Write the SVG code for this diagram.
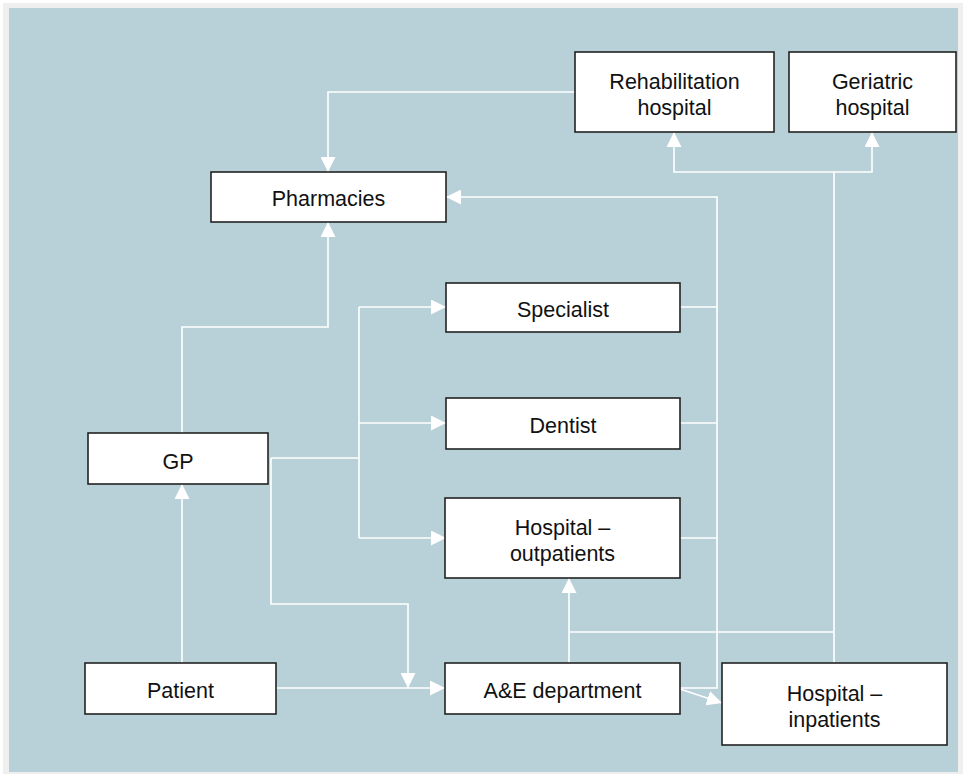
<svg xmlns="http://www.w3.org/2000/svg" width="963" height="774" viewBox="0 0 963 774">
<style>
.box{fill:#fff;stroke:#222;stroke-width:1.6}
.lbl{font-family:"Liberation Sans",Arial,sans-serif;font-size:21.5px;fill:#111;text-anchor:middle}
.c{fill:none;stroke:#fff;stroke-width:1.6}
.a{marker-end:url(#ah)}
</style>
<defs>
<marker id="ah" markerUnits="userSpaceOnUse" markerWidth="15" markerHeight="15" refX="15" refY="7.5" orient="auto" viewBox="0 0 15 15">
<path d="M0,0 L15,7.5 L0,15 Z" fill="#fff"/>
</marker>
</defs>
<rect x="3" y="3" width="960" height="771" fill="#efefef"/>
<rect x="9" y="8" width="949" height="764" fill="#b8d0d7"/>
<g id="connectors">
<path class="c a" d="M575,92 H328 V172"/>
<path class="c a" d="M680,688 H717 V197 H446"/>
<path class="c" d="M680,307 H717 M680,423 H717 M680,538 H717"/>
<path class="c a" d="M680,689 L722,703"/>
<path class="c a" d="M834,663 V172 H674 V132"/>
<path class="c a" d="M834,172 H872 V132"/>
<path class="c" d="M834,632 H569"/>
<path class="c a" d="M569,663 V578"/>
<path class="c a" d="M182,433 V327 H328 V222"/>
<path class="c a" d="M182,663 V484"/>
<path class="c a" d="M276,688 H445"/>
<path class="c a" d="M271,458 V604 H408 V688"/>
<path class="c" d="M271,458 H359 M359,307 V538"/>
<path class="c a" d="M359,307 H446"/>
<path class="c a" d="M359,423 H446"/>
<path class="c a" d="M359,538 H446"/>
</g>
<g id="rehab"><rect class="box" x="575" y="52" width="199" height="80"/><text class="lbl" x="674.5" y="89">Rehabilitation</text><text class="lbl" x="674.5" y="115">hospital</text></g>
<g id="geriatric"><rect class="box" x="789" y="52" width="167" height="80"/><text class="lbl" x="872.5" y="89">Geriatric</text><text class="lbl" x="872.5" y="115">hospital</text></g>
<g id="pharmacies"><rect class="box" x="211" y="172" width="235" height="50"/><text class="lbl" x="328.5" y="206">Pharmacies</text></g>
<g id="specialist"><rect class="box" x="446" y="283" width="234" height="49"/><text class="lbl" x="563" y="317">Specialist</text></g>
<g id="dentist"><rect class="box" x="446" y="398" width="234" height="51"/><text class="lbl" x="563" y="433">Dentist</text></g>
<g id="outpatients"><rect class="box" x="445" y="498" width="235" height="80"/><text class="lbl" x="562.5" y="535">Hospital –</text><text class="lbl" x="562.5" y="561">outpatients</text></g>
<g id="gp"><rect class="box" x="88" y="433" width="180" height="51"/><text class="lbl" x="178" y="469">GP</text></g>
<g id="patient"><rect class="box" x="85" y="663" width="191" height="51"/><text class="lbl" x="180.5" y="698">Patient</text></g>
<g id="ae"><rect class="box" x="445" y="663" width="235" height="51"/><text class="lbl" x="562.5" y="698">A&amp;E department</text></g>
<g id="inpatients"><rect class="box" x="722" y="663" width="225" height="82"/><text class="lbl" x="834.5" y="701">Hospital –</text><text class="lbl" x="834.5" y="727">inpatients</text></g>
</svg>
